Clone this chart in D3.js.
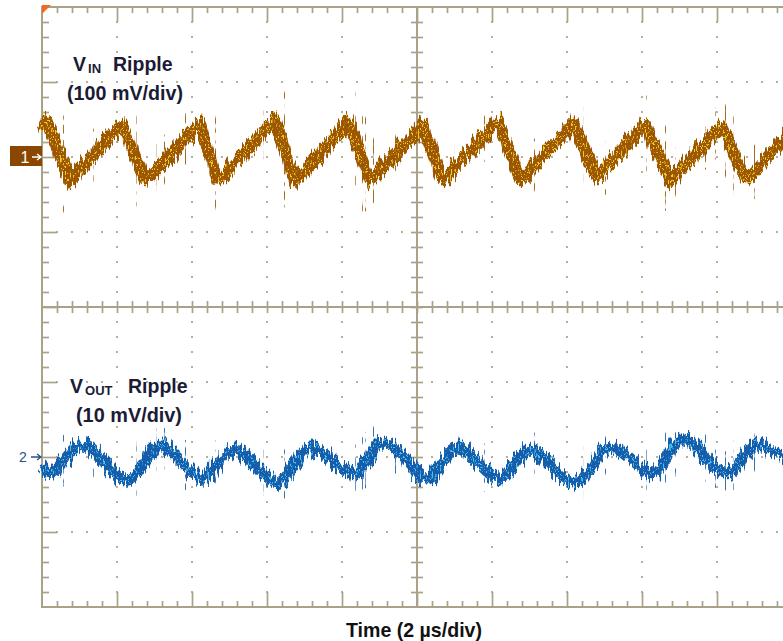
<!DOCTYPE html>
<html>
<head>
<meta charset="utf-8">
<script src="https://cdn.jsdelivr.net/npm/d3@7"></script>
<style>
  html, body { margin: 0; padding: 0; background: #ffffff; }
  svg { display: block; }
</style>
</head>
<body>
<svg id="chart" width="783" height="641"></svg>
<script>
// Time base: 10 horizontal divisions at 2 µs/div
const timeDomain = [0, 20];

// Channel 1 – input ripple (mV, 100 mV/div), peaks and valleys of the sawtooth
const vinTime = [0, 0.13, 0.75, 2.13, 2.75, 4.21, 4.69, 6.21, 6.75, 8.16, 8.75, 10.16, 10.67,
                 12.16, 12.75, 14.16, 14.8, 16.08, 16.75, 18.13, 18.8, 19.76, 20];
const vinMv   = [36, 47, -31, 43, -31, 44, -33, 49, -33, 47, -31, 43, -31,
                 47, -31, 44, -27, 44, -31, 40, -31, 23, 35];

// Channel 2 – output ripple (mV, 10 mV/div)
const voutTime = [0, 0.21, 1.07, 2.27, 3.15, 4.27, 5.15, 6.27, 7.15, 8.35, 9.09, 10.27, 11.07,
                  12.21, 13.01, 14.21, 15.15, 16.27, 17.07, 18.29, 19.07, 19.76, 20];
const voutMv   = [-1.3, -2.1, 1.6, -3.1, 1.5, -2.7, 0.9, -3.3, 1.2, -2.1, 2.0, -2.8, 1.2,
                  -2.8, 0.9, -3.5, 1.3, -2.1, 2.3, -2.1, 1.6, 0, -0.6];

// Vertical range per channel (8 divisions); channel offsets put 0 mV at div 2 and div 6
const vinRange  = [-600, 200];
const voutRange = [-20, 60];

// Text
const vinTitle   = ["V", "IN", "Ripple"];
const vinScale   = "(100 mV/div)";
const voutTitle  = ["V", "OUT", "Ripple"];
const voutScale  = "(10 mV/div)";
const timeLabel  = "Time (2 µs/div)";
const ch1Marker  = "1";
const ch2Marker  = "2";

const W = 783, H = 641;
const plotL = 42, plotR = 792, plotT = 7, plotB = 607;

const svg = d3.select("#chart");
svg.append("rect").attr("width", W).attr("height", H).attr("fill", "#ffffff");

const x  = d3.scaleLinear().domain(timeDomain).range([plotL, plotR]);
const y1 = d3.scaleLinear().domain(vinRange).range([plotB, plotT]);
const y2 = d3.scaleLinear().domain(voutRange).range([plotB, plotT]);
// graticule in divisions
const gx = d3.scaleLinear().domain([0, 10]).range([plotL, plotR]);
const gy = d3.scaleLinear().domain([0, 8]).range([plotT, plotB]);

const gridColor = "#a7a288";

// ---------- filters for the noisy trace texture ----------
const defs = svg.append("defs");
function userSpace(f) {
  return f.attr("filterUnits", "userSpaceOnUse")
    .attr("x", 0).attr("y", 0).attr("width", W).attr("height", H)
    .attr("color-interpolation-filters", "sRGB");
}
// vertical jitter of the band
const jit = userSpace(defs.append("filter").attr("id", "jitter"));
jit.append("feTurbulence").attr("type", "fractalNoise").attr("baseFrequency", "0.45 0.04")
  .attr("numOctaves", 2).attr("seed", 4).attr("result", "n");
jit.append("feColorMatrix").attr("in", "n").attr("type", "matrix")
  .attr("values", "0 0 0 0 0.5  0 1.8 0 0 -0.4  0 0 0 0 0  0 0 0 0 1").attr("result", "m");
jit.append("feDisplacementMap").attr("in", "SourceGraphic").attr("in2", "m")
  .attr("scale", 13).attr("xChannelSelector", "R").attr("yChannelSelector", "G").attr("result", "d");
jit.append("feGaussianBlur").attr("in", "d").attr("stdDeviation", 0.35);

// bright speckles inside the band
const spk = userSpace(defs.append("filter").attr("id", "speckle"));
spk.append("feTurbulence").attr("type", "fractalNoise").attr("baseFrequency", "0.6")
  .attr("numOctaves", 1).attr("seed", 9).attr("result", "t");
spk.append("feColorMatrix").attr("in", "t").attr("type", "matrix")
  .attr("values", "0 0 0 0 0  0 0 0 0 0  0 0 0 0 0  14 0 0 0 -8.0").attr("result", "mk");
spk.append("feComposite").attr("in", "SourceGraphic").attr("in2", "mk").attr("operator", "in");

// sparse vertical spikes
const spkLines = userSpace(defs.append("filter").attr("id", "spikes"));
spkLines.append("feTurbulence").attr("type", "fractalNoise").attr("baseFrequency", "0.9 0")
  .attr("numOctaves", 1).attr("seed", 11).attr("result", "st");
spkLines.append("feColorMatrix").attr("in", "st").attr("type", "matrix")
  .attr("values", "0 0 0 0 0  0 0 0 0 0  0 0 0 0 0  40 0 0 0 -26.5").attr("result", "stm");
spkLines.append("feTurbulence").attr("type", "fractalNoise").attr("baseFrequency", "0.06 0.12")
  .attr("numOctaves", 1).attr("seed", 5).attr("result", "lt");
spkLines.append("feColorMatrix").attr("in", "lt").attr("type", "matrix")
  .attr("values", "0 0 0 0 0  0 0 0 0 0  0 0 0 0 0  10 0 0 0 -4.6").attr("result", "ltm");
spkLines.append("feComposite").attr("in", "stm").attr("in2", "ltm").attr("operator", "in").attr("result", "mask");
spkLines.append("feComposite").attr("in", "SourceGraphic").attr("in2", "mask").attr("operator", "in");

// ---------- graticule ----------
const grid = svg.append("g").attr("class", "graticule");
const minorX = d3.range(0, 10.001, 0.2);
const minorY = d3.range(0, 8.001, 0.2);
const majorX = d3.range(0, 11, 1);
const majorY = d3.range(0, 9, 1);

// dotted division lines
const dots = [];
majorX.filter(d => d > 0 && d < 10 && d !== 5).forEach(cx =>
  minorY.filter(v => v > 0.01 && v < 7.99).forEach(cy => dots.push([cx, cy])));
majorY.filter(d => d > 0 && d < 8 && d !== 4).forEach(cy =>
  minorX.filter(v => v > 0.01 && v < 9.99).forEach(cx => dots.push([cx, cy])));
grid.append("g").selectAll("rect").data(dots).join("rect")
  .attr("x", d => gx(d[0]) - 1).attr("y", d => gy(d[1]) - 1)
  .attr("width", 2).attr("height", 2).attr("fill", "#b5b09c");

function tickAxis(axisFn, scale, values, size, transform) {
  const g = grid.append("g").attr("transform", transform)
    .call(axisFn(scale).tickValues(values).tickSize(size).tickFormat(""));
  g.select(".domain").remove();
  g.selectAll(".tick line").attr("stroke", gridColor).attr("stroke-width", 1.7);
  return g;
}
const minorOnlyX = minorX.filter(v => Math.abs(v - Math.round(v)) > 0.01);
const minorOnlyY = minorY.filter(v => Math.abs(v - Math.round(v)) > 0.01);
// edges
tickAxis(d3.axisTop, gx, minorOnlyX, 6, `translate(0,${plotB})`);
tickAxis(d3.axisTop, gx, majorX.filter(d => d > 0 && d < 10), 15, `translate(0,${plotB})`);
tickAxis(d3.axisBottom, gx, minorOnlyX, 6, `translate(0,${plotT})`);
tickAxis(d3.axisBottom, gx, majorX.filter(d => d > 0 && d < 10), 15, `translate(0,${plotT})`);
tickAxis(d3.axisRight, gy, minorOnlyY, 7, `translate(${plotL},0)`);
tickAxis(d3.axisRight, gy, majorY.filter(d => d > 0 && d < 8), 15, `translate(${plotL},0)`);
// centre cross
tickAxis(d3.axisTop, gx, minorX.filter(v => v > 0.01 && v < 9.99), 6, `translate(0,${gy(4)})`);
tickAxis(d3.axisBottom, gx, minorX.filter(v => v > 0.01 && v < 9.99), 6, `translate(0,${gy(4)})`);
tickAxis(d3.axisLeft, gy, minorY.filter(v => v > 0.01 && v < 7.99), 6, `translate(${gx(5)},0)`);
tickAxis(d3.axisRight, gy, minorY.filter(v => v > 0.01 && v < 7.99), 6, `translate(${gx(5)},0)`);

// frame and centre lines
const lineStyle = s => s.attr("stroke", gridColor).attr("stroke-width", 2).attr("fill", "none");
grid.append("path").attr("d", `M${plotR},${plotT}H${plotL}V${plotB}H${plotR}`).call(lineStyle);
grid.append("line").attr("x1", plotL).attr("x2", plotR).attr("y1", gy(4)).attr("y2", gy(4)).call(lineStyle);
grid.append("line").attr("x1", gx(5)).attr("x2", gx(5)).attr("y1", plotT).attr("y2", plotB).call(lineStyle);

// trigger corner marker
svg.append("path").attr("d", `M${plotL},${plotT - 2}h9l-9,9z`).attr("fill", "#f26a21");

// ---------- traces ----------
const vinData  = vinTime.map((t, i) => ({ t, v: vinMv[i] }));
const voutData = voutTime.map((t, i) => ({ t, v: voutMv[i] }));

const vinLine  = d3.line().x(d => x(d.t)).y(d => y1(d.v)).curve(d3.curveLinear);
const voutLine = d3.line().x(d => x(d.t)).y(d => y2(d.v)).curve(d3.curveMonotoneX);

function drawTrace(data, lineGen, c) {
  const g = svg.append("g");
  g.append("path").datum(data).attr("d", lineGen).attr("fill", "none")
    .attr("stroke", c.spike).attr("stroke-width", 36).attr("filter", "url(#spikes)").attr("opacity", 0.85);
  const band = g.append("g").attr("filter", "url(#jitter)");
  band.append("path").datum(data).attr("d", lineGen).attr("fill", "none")
    .attr("stroke", c.base).attr("stroke-width", c.width).attr("stroke-linejoin", "round");
  band.append("path").datum(data).attr("d", lineGen).attr("fill", "none")
    .attr("stroke", c.light).attr("stroke-width", c.width - 3).attr("filter", "url(#speckle)");
}
drawTrace(vinData, vinLine,  { base: "#9c5600", light: "#ecc828", spike: "#945300", width: 12 });
drawTrace(voutData, voutLine, { base: "#155cab", light: "#48c2ec", spike: "#17599f", width: 11 });

// ---------- channel markers ----------
svg.append("rect").attr("x", 10).attr("y", 146).attr("width", 32).attr("height", 20).attr("fill", "#8a4700");
svg.append("text").attr("x", 25).attr("y", y1(0) + 6).attr("text-anchor", "middle")
  .attr("font-family", "Liberation Sans, Arial, sans-serif").attr("font-size", 16).attr("fill", "#ffffff")
  .text(ch1Marker);
svg.append("path").attr("d", `M32,${y1(0)}H40M37,${y1(0) - 3}L41,${y1(0)}L37,${y1(0) + 3}`)
  .attr("stroke", "#ffffff").attr("stroke-width", 1.4).attr("fill", "none");

svg.append("text").attr("x", 23).attr("y", y2(0) + 5).attr("text-anchor", "middle")
  .attr("font-family", "Liberation Sans, Arial, sans-serif").attr("font-size", 14).attr("fill", "#2c4f86")
  .text(ch2Marker);
svg.append("path").attr("d", `M31,${y2(0)}H40M37,${y2(0) - 3}L41,${y2(0)}L37,${y2(0) + 3}`)
  .attr("stroke", "#2c4f86").attr("stroke-width", 1.3).attr("fill", "none");

// ---------- labels ----------
const titleFont = "Liberation Sans, Arial, Helvetica, sans-serif";
const ink = "#1b1b36";
function title(parts, xPos, yPos, rippleX) {
  const t = svg.append("text").attr("x", xPos).attr("y", yPos)
    .attr("font-family", titleFont).attr("font-weight", "bold").attr("font-size", 19.5).attr("fill", ink);
  t.append("tspan").text(parts[0]);
  t.append("tspan").attr("font-size", 13).attr("dy", 2).attr("dx", 2).text(parts[1]);
  t.append("tspan").attr("x", rippleX).attr("dy", -2).text(parts[2]);
}
function subTitle(str, x0, x1, yPos) {
  svg.append("text").attr("x", x0).attr("y", yPos)
    .attr("textLength", x1 - x0).attr("lengthAdjust", "spacingAndGlyphs")
    .attr("font-family", titleFont).attr("font-weight", "bold").attr("font-size", 19.5).attr("fill", ink)
    .text(str);
}
title(vinTitle, 73, 71, 113);
subTitle(vinScale, 67, 183, 100);
title(voutTitle, 70, 393, 128);
subTitle(voutScale, 76, 182, 422);

svg.append("text").attr("x", 346).attr("y", 637)
  .attr("textLength", 136).attr("lengthAdjust", "spacingAndGlyphs")
  .attr("font-family", "Liberation Sans Narrow, Arial Narrow, Liberation Sans, sans-serif")
  .attr("font-weight", "bold").attr("font-size", 21).attr("fill", "#111111")
  .text(timeLabel);
</script>
</body>
</html>
